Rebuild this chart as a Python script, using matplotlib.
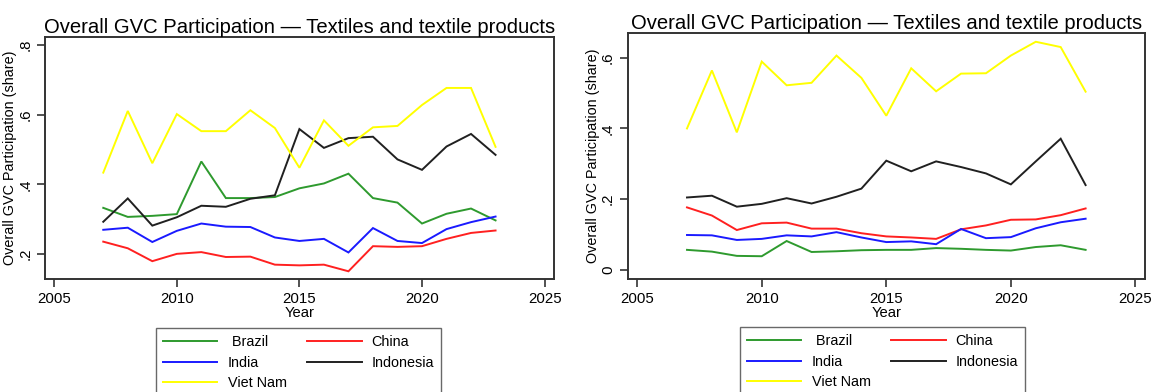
import matplotlib
matplotlib.use("Agg")
import matplotlib.pyplot as plt
from matplotlib.ticker import FuncFormatter

plt.rcParams['font.family'] = ['Liberation Sans', 'DejaVu Sans']

years = list(range(2007, 2024))

# Panel A
brazil_a = [0.333, 0.307, 0.310, 0.315, 0.466, 0.361, 0.361, 0.364, 0.389, 0.403,
            0.431, 0.361, 0.348, 0.288, 0.316, 0.331, 0.297]
china_a = [0.236, 0.217, 0.180, 0.201, 0.206, 0.192, 0.193, 0.170, 0.168, 0.170,
           0.151, 0.223, 0.221, 0.223, 0.244, 0.261, 0.268]
india_a = [0.270, 0.276, 0.235, 0.267, 0.288, 0.279, 0.278, 0.248, 0.238, 0.244,
           0.205, 0.275, 0.238, 0.232, 0.272, 0.292, 0.308]
indonesia_a = [0.293, 0.360, 0.282, 0.306, 0.339, 0.336, 0.359, 0.369, 0.559, 0.505,
               0.533, 0.537, 0.472, 0.442, 0.509, 0.545, 0.485]
vietnam_a = [0.434, 0.611, 0.461, 0.602, 0.553, 0.553, 0.613, 0.562, 0.448, 0.584,
             0.511, 0.564, 0.568, 0.628, 0.677, 0.677, 0.508]

# Panel B
brazil_b = [0.057, 0.052, 0.040, 0.039, 0.082, 0.051, 0.053, 0.056, 0.057, 0.057,
            0.062, 0.060, 0.057, 0.055, 0.065, 0.070, 0.057]
china_b = [0.177, 0.154, 0.113, 0.132, 0.134, 0.117, 0.117, 0.104, 0.095, 0.092,
           0.088, 0.115, 0.126, 0.142, 0.143, 0.155, 0.174]
india_b = [0.099, 0.098, 0.085, 0.088, 0.098, 0.095, 0.107, 0.092, 0.079, 0.081,
           0.073, 0.116, 0.090, 0.093, 0.118, 0.135, 0.145]
indonesia_b = [0.205, 0.210, 0.179, 0.187, 0.203, 0.188, 0.207, 0.230, 0.309, 0.279,
               0.307, 0.291, 0.273, 0.242, 0.307, 0.371, 0.240]
vietnam_b = [0.400, 0.564, 0.389, 0.589, 0.522, 0.529, 0.606, 0.543, 0.436, 0.570,
             0.505, 0.555, 0.556, 0.606, 0.645, 0.630, 0.504]

countries = ["Brazil", "China", "India", "Indonesia", "Viet Nam"]
legend_labels = [" Brazil", "China", "India", "Indonesia", "Viet Nam"]
colors = ["#2e9a2e", "#ff2020", "#1a1aff", "#202020", "#ffff00"]

xticks = [2005, 2010, 2015, 2020, 2025]
yticks_a = [0.2, 0.4, 0.6, 0.8]
yticks_b = [0.0, 0.2, 0.4, 0.6]

title = "Overall GVC Participation \u2014 Textiles and textile products"
ylabel = "Overall GVC Participation (share)"
xlabel = "Year"

W, H = 1151, 392
fig = plt.figure(figsize=(W / 100, H / 100), dpi=100)


def stata_fmt(v, pos):
    if abs(v) < 1e-9:
        return "0"
    s = f"{v:.1f}"
    return s.replace("0.", ".")


def panel(rect, series, yticks, ylim, legend_rect):
    l, t, r, b = rect
    ax = fig.add_axes([l / W, 1 - b / H, (r - l) / W, (b - t) / H])
    for vals, c in zip(series, colors):
        ax.plot(years, vals, color=c, lw=1.4, solid_joinstyle='miter')
    ax.set_xlim(2004.64, 2025.38)
    ax.set_ylim(*ylim)
    ax.set_xticks(xticks)
    ax.set_yticks(yticks)
    ax.yaxis.set_major_formatter(FuncFormatter(stata_fmt))
    ax.tick_params(axis='both', direction='out', length=5.5, width=1.2,
                   color='#333333', labelsize=10.8, pad=4)
    for lab in ax.get_yticklabels():
        lab.set_rotation(90)
        lab.set_va('center')
    for sp in ax.spines.values():
        sp.set_linewidth(1.4)
        sp.set_color('#333333')
    ax.set_title(title, fontsize=14.6, pad=2.5)
    ax.set_xlabel(xlabel, fontsize=10.6, labelpad=0)
    ax.set_ylabel(ylabel, fontsize=10.4, labelpad=1)
    handles = ax.get_lines()
    order = [0, 2, 4, 1, 3]
    leg = fig.legend([handles[i] for i in order], [legend_labels[i] for i in order],
                     ncol=2, loc='upper left',
                     bbox_to_anchor=(legend_rect[0] / W, 1 - legend_rect[1] / H),
                     bbox_transform=fig.transFigure,
                     fontsize=10.4, handlelength=3.75, handletextpad=0.7,
                     columnspacing=1.45, labelspacing=0.45, borderpad=0.5,
                     borderaxespad=0, frameon=True, fancybox=False)
    leg.get_frame().set_edgecolor('#444444')
    leg.get_frame().set_linewidth(1.0)
    return ax


panel((45.4, 36.7, 553.9, 279.3),
      [brazil_a, china_a, india_a, indonesia_a, vietnam_a],
      yticks_a, (0.128, 0.824), (156, 328))
panel((628.2, 32.7, 1144.9, 278.7),
      [brazil_b, china_b, india_b, indonesia_b, vietnam_b],
      yticks_b, (-0.0245, 0.6706), (740, 327))

fig.savefig("out.png", dpi=100)
